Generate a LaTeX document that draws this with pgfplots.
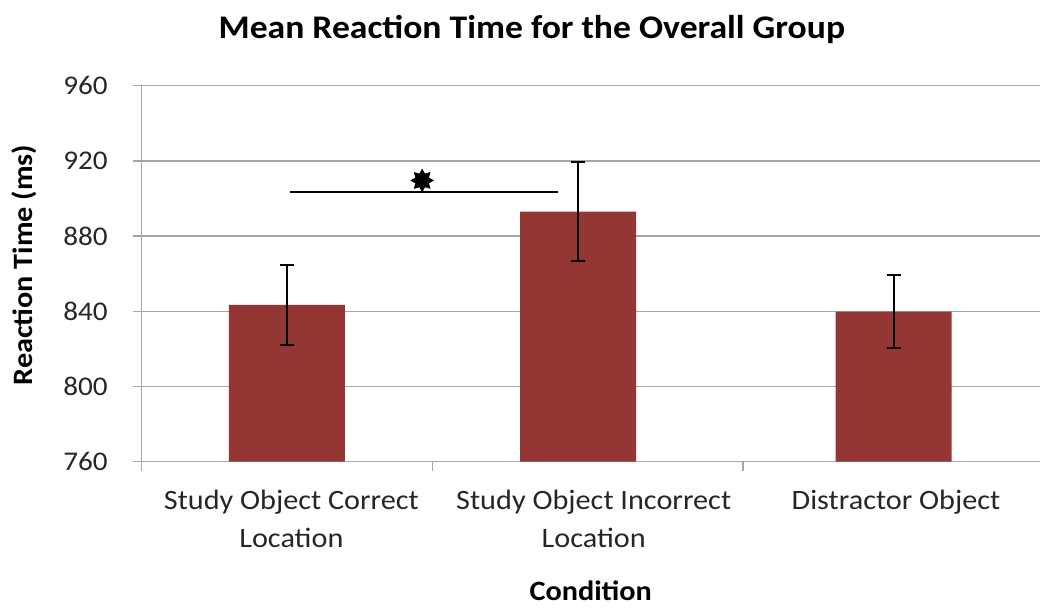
\documentclass[border=0pt]{standalone}
\usepackage{pgfplots}
\pgfplotsset{compat=1.18}
\usepackage{fontspec}
\setmainfont{Carlito}[FakeStretch=1.08]
\definecolor{barred}{HTML}{943634}
\definecolor{gridgray}{HTML}{A6A6A6}
\definecolor{txt}{HTML}{262626}
\pgfdeclareplotmark{burst}{%
  \pgfpathmoveto{\pgfpointpolar{90}{\pgfplotmarksize}}%
  \pgfpathlineto{\pgfpointpolar{112.5}{0.62\pgfplotmarksize}}%
  \pgfpathlineto{\pgfpointpolar{135}{\pgfplotmarksize}}%
  \pgfpathlineto{\pgfpointpolar{157.5}{0.62\pgfplotmarksize}}%
  \pgfpathlineto{\pgfpointpolar{180}{\pgfplotmarksize}}%
  \pgfpathlineto{\pgfpointpolar{202.5}{0.62\pgfplotmarksize}}%
  \pgfpathlineto{\pgfpointpolar{225}{\pgfplotmarksize}}%
  \pgfpathlineto{\pgfpointpolar{247.5}{0.62\pgfplotmarksize}}%
  \pgfpathlineto{\pgfpointpolar{270}{\pgfplotmarksize}}%
  \pgfpathlineto{\pgfpointpolar{292.5}{0.62\pgfplotmarksize}}%
  \pgfpathlineto{\pgfpointpolar{315}{\pgfplotmarksize}}%
  \pgfpathlineto{\pgfpointpolar{337.5}{0.62\pgfplotmarksize}}%
  \pgfpathlineto{\pgfpointpolar{0}{\pgfplotmarksize}}%
  \pgfpathlineto{\pgfpointpolar{22.5}{0.62\pgfplotmarksize}}%
  \pgfpathlineto{\pgfpointpolar{45}{\pgfplotmarksize}}%
  \pgfpathlineto{\pgfpointpolar{67.5}{0.62\pgfplotmarksize}}%
  \pgfpathclose\pgfusepathqfillstroke}
\begin{document}
\begin{tikzpicture}
\path[use as bounding box] (0,0) rectangle (520pt,304.5pt);
\begin{axis}[
  at={(70.85pt,73.65pt)}, anchor=south west,
  scale only axis, width=449pt, height=188pt,
  xmin=-0.5, xmax=2.5, ymin=760, ymax=960,
  ytick={760,800,840,880,920,960},
  /pgf/number format/assume math mode=true,
  ymajorgrids, grid style={gridgray, line width=0.75pt},
  axis x line*=bottom, axis y line*=left,
  axis line style={gridgray, line width=0.75pt, -},
  tick align=outside, major tick length=4.5pt,
  tick style={gridgray, line width=0.75pt},
  xtick={-0.5,0.471,1.509}, xticklabels={},
  extra x ticks={0,1.01,2.02},
  extra x tick labels={{Study Object Correct\\Location},{Study Object Incorrect\\Location},{Distractor Object}},
  extra x tick style={major tick length=0pt, tick style={draw=none}},
  xticklabel style={align=center, font=\fontsize{14}{19}\selectfont, text=txt, anchor=north, yshift=-10.5pt},
  yticklabel style={font=\fontsize{13.5}{15}\selectfont, text=txt, xshift=-9pt},
  title={Mean Reaction Time for the Overall Group},
  title style={font=\fontsize{16.5}{19}\selectfont\bfseries, at={(axis description cs:0.4345,1)}, anchor=center, yshift=22pt},
  xlabel={Condition},
  xlabel style={font=\fontsize{14}{16}\selectfont\bfseries, at={(axis description cs:0.5,0)}, anchor=center, yshift=-64.5pt},
  ylabel={Reaction Time (ms)},
  ylabel style={font=\fontsize{14}{16}\selectfont\bfseries, at={(axis description cs:-0.131,0.523)}, anchor=center},
]
\addplot[ybar, bar width=0.387, fill=barred, draw=none,
  error bars/.cd, y dir=both, y explicit,
  error bar style={black, line width=1pt},
  error mark options={rotate=90, mark size=3.5pt, line width=1pt, black}]
  coordinates {(-0.015,843.4) +- (0,21.3) (0.958,893.0) +- (0,26.2) (2.012,839.8) +- (0,19.5)};
\addplot[black, line width=1pt, mark=none] coordinates {(-0.005,903.3) (0.891,903.3)};
\addplot[only marks, mark=burst, mark size=5.5pt, black] coordinates {(0.437,909.6)};
\end{axis}
\end{tikzpicture}
\end{document}
